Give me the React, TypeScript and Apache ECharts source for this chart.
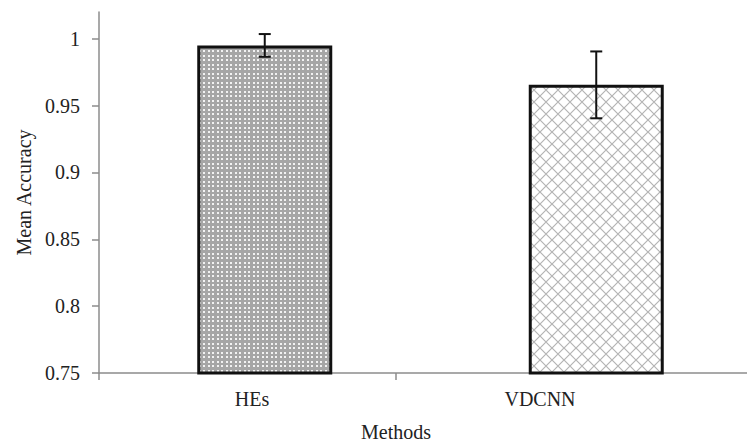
import React, { useEffect, useRef } from "react";
import * as echarts from "echarts";

const CATEGORIES = ["HEs", "VDCNN"];
const MEANS = [0.995, 0.9655];
const ERRORS = [0.0085, 0.025];
const Y_TICKS = [0.75, 0.8, 0.85, 0.9, 0.95, 1];
const LABEL_POS = [0.5, 1.5];
const DIVIDER_POS = [1];

const FONT = "Liberation Serif, Times New Roman, serif";
const AXIS_GRAY = "#8c8c8c";
const TEXT = "#222";

function dotsTile() {
  const s = 9;
  const c = document.createElement("canvas");
  c.width = s;
  c.height = s;
  const g = c.getContext("2d")!;
  g.fillStyle = "#a6a6a6";
  g.fillRect(0, 0, s, s);
  g.fillStyle = "#f2f2f2";
  [[1, 1], [5, 1], [1, 5], [5, 5]].forEach(([x, y]) => g.fillRect(x, y, 2, 2));
  return c;
}

function hatchTile() {
  const s = 12;
  const c = document.createElement("canvas");
  c.width = s;
  c.height = s;
  const g = c.getContext("2d")!;
  g.fillStyle = "#ffffff";
  g.fillRect(0, 0, s, s);
  g.strokeStyle = "#b4b4b4";
  g.lineWidth = 1.2;
  g.beginPath();
  g.moveTo(0, 0);
  g.lineTo(s, s);
  g.moveTo(s, 0);
  g.lineTo(0, s);
  g.stroke();
  return c;
}

export default function App() {
  const ref = useRef<HTMLDivElement>(null);
  useEffect(() => {
    if (!ref.current) return;
    const chart = echarts.init(ref.current, null, { renderer: "svg" });
    const patterns = [
      { image: dotsTile(), repeat: "repeat", imageWidth: 9, imageHeight: 9 },
      { image: hatchTile(), repeat: "repeat", imageWidth: 12, imageHeight: 12 },
    ];
    const barData = MEANS.map((v, i) => ({
      value: v,
      itemStyle: { color: patterns[i] as any },
    }));
    const errData = MEANS.map((v, i) => [i, v - ERRORS[i], v + ERRORS[i]]);

    const labelStyle = { fontFamily: FONT, fontSize: 20, color: TEXT };

    chart.setOption({
      animation: false,
      backgroundColor: "#ffffff",
      textStyle: { fontFamily: FONT },
      grid: [
        { left: 99, right: -15, top: 12, bottom: 69, outerBoundsMode: "none", containLabel: false },
        { left: 108, right: 63, top: 12, bottom: 69, outerBoundsMode: "none", containLabel: false },
      ],
      xAxis: [
        {
          type: "category",
          gridIndex: 0,
          data: CATEGORIES,
          axisLine: { lineStyle: { color: AXIS_GRAY, width: 1.5 } },
          axisTick: {
            show: true,
            length: 7,
            interval: (idx: number) => idx === 0,
            lineStyle: { color: AXIS_GRAY, width: 1.5 },
          },
          axisLabel: { show: false },
          splitLine: { show: false },
        },
        {
          type: "value",
          gridIndex: 1,
          min: 0,
          max: 2,
          interval: 0.5,
          axisLine: { show: false },
          splitLine: { show: false },
          axisTick: {
            show: true,
            length: 7,
            customValues: DIVIDER_POS,
            lineStyle: { color: AXIS_GRAY, width: 1.5 },
          },
          axisLabel: {
            customValues: LABEL_POS,
            formatter: (v: number) => CATEGORIES[Math.floor(v)] ?? "",
            ...labelStyle,
            margin: 16,
          },
          name: "Methods",
          nameLocation: "middle",
          nameGap: 49,
          nameTextStyle: labelStyle,
        },
      ],
      yAxis: [
        {
          type: "value",
          gridIndex: 0,
          min: 0.75,
          max: 1.02,
          interval: 0.05,
          axisLine: { show: true, lineStyle: { color: AXIS_GRAY, width: 1.5 } },
          axisTick: {
            show: true,
            length: 7,
            customValues: Y_TICKS,
            lineStyle: { color: AXIS_GRAY, width: 1.5 },
          },
          axisLabel: {
            customValues: Y_TICKS,
            ...labelStyle,
            margin: 19,
          },
          splitLine: { show: false },
          name: "Mean Accuracy",
          nameLocation: "middle",
          nameGap: 64,
          nameTextStyle: labelStyle,
        },
        {
          type: "value",
          gridIndex: 1,
          min: 0,
          max: 1,
          show: false,
        },
      ],
      series: [
        {
          type: "bar",
          xAxisIndex: 0,
          yAxisIndex: 0,
          data: barData,
          barWidth: 135,
          itemStyle: { borderColor: "#111", borderWidth: 3 },
        },
        {
          type: "custom",
          xAxisIndex: 0,
          yAxisIndex: 0,
          data: errData,
          z: 10,
          renderItem: (params: any, api: any) => {
            const x = api.value(0);
            const lo = api.coord([x, api.value(1)]);
            const hi = api.coord([x, api.value(2)]);
            const hw = 6;
            const style = { stroke: "#111", lineWidth: 2 };
            return {
              type: "group",
              children: [
                { type: "line", shape: { x1: lo[0], y1: lo[1], x2: hi[0], y2: hi[1] }, style },
                { type: "line", shape: { x1: hi[0] - hw, y1: hi[1], x2: hi[0] + hw, y2: hi[1] }, style },
                { type: "line", shape: { x1: lo[0] - hw, y1: lo[1], x2: lo[0] + hw, y2: lo[1] }, style },
              ],
            };
          },
        },
      ],
    });
    return () => chart.dispose();
  }, []);
  return (
    <div
      ref={ref}
      style={{ position: "fixed", left: 0, top: 0, width: 747, height: 442 }}
    />
  );
}
